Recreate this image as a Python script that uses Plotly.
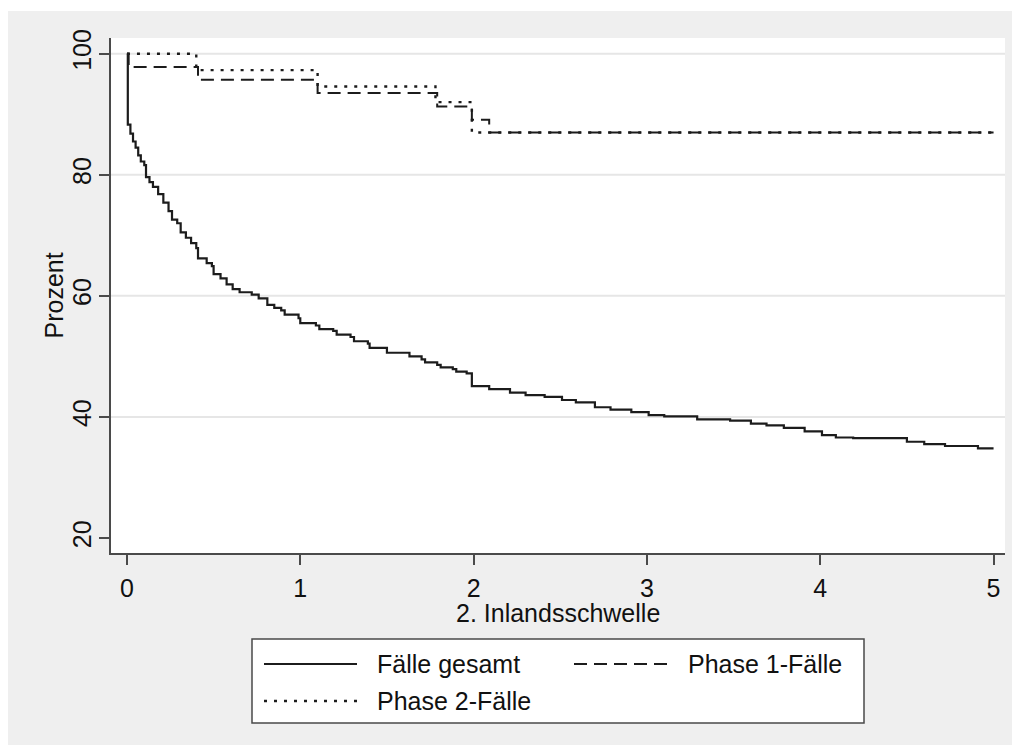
import plotly.graph_objects as go

# ---------------- data ----------------
gesamt_x = [0, 0.005, 0.02, 0.035, 0.05, 0.065, 0.08, 0.10, 0.11, 0.13, 0.15, 0.18, 0.21, 0.24,
            0.26, 0.29, 0.31, 0.34, 0.37, 0.40, 0.41, 0.46, 0.49, 0.50, 0.54, 0.575, 0.61, 0.65,
            0.72, 0.76, 0.81, 0.85, 0.89, 0.91, 0.99, 1.00, 1.09, 1.11, 1.19, 1.21, 1.29, 1.31,
            1.39, 1.40, 1.50, 1.63, 1.70, 1.72, 1.79, 1.81, 1.88, 1.90, 1.96, 1.99, 2.09, 2.21,
            2.30, 2.41, 2.51, 2.59, 2.70, 2.79, 2.91, 3.01, 3.10, 3.29, 3.48, 3.60, 3.69, 3.79,
            3.91, 4.01, 4.09, 4.19, 4.50, 4.60, 4.72, 4.91, 5.0]
gesamt_y = [100, 88.3, 86.8, 85.5, 84.5, 83.2, 82.2, 81.6, 79.6, 78.8, 78.0, 76.8, 75.4, 74.0,
            72.6, 72.0, 70.5, 69.6, 68.7, 67.9, 66.2, 65.4, 64.9, 63.6, 62.9, 61.9, 61.1, 60.6,
            60.2, 59.6, 58.5, 58.0, 57.6, 56.9, 56.3, 55.5, 55.1, 54.5, 54.2, 53.6, 53.2, 52.5,
            52.1, 51.4, 50.6, 50.0, 49.5, 49.0, 48.6, 48.2, 47.9, 47.5, 47.2, 45.1, 44.6, 44.0,
            43.6, 43.3, 42.8, 42.4, 41.6, 41.2, 40.8, 40.3, 40.1, 39.6, 39.4, 38.9, 38.6, 38.2,
            37.6, 37.0, 36.6, 36.5, 35.9, 35.5, 35.2, 34.8, 34.8]

phase1_x = [0, 0.01, 0.41, 1.10, 1.79, 1.99, 2.09, 5.0]
phase1_y = [100, 97.8, 95.7, 93.5, 91.3, 89.1, 87.0, 87.0]

phase2_x = [0, 0.40, 1.10, 1.78, 1.99, 5.0]
phase2_y = [100, 97.3, 94.6, 92.0, 87.0, 87.0]

x_ticks = [0, 1, 2, 3, 4, 5]
y_ticks = [20, 40, 60, 80, 100]
grid_values = [40, 60, 80, 100]

series_names = ["Fälle gesamt", "Phase 1-Fälle", "Phase 2-Fälle"]
x_title = "2. Inlandsschwelle"
y_title = "Prozent"

# ---------------- layout geometry ----------------
# positions below are page pixels; the figure div sits 8px into the page (body margin)
OFF = 8
W_FIG, H_FIG = 1012, 741
L, R, T, B = 111, 1005, 38, 553          # plot area in page pixels
PW, PH = R - L, B - T


def px_x(px):
    return (px - L) / PW


def px_y(py):
    return (B - py) / PH


LINE_COL = "#1c1c1c"
AXIS_COL = "#4a4a4a"
GRID_COL = "#e6e6e6"
BG_COL = "#efefef"
FONT = "Liberation Sans, Arial, sans-serif"
FS = 25
TXT_COL = "#111"

DASH = "13px,7px"
DOT = "3px,7px"

fig = go.Figure()
fig.add_trace(go.Scatter(x=gesamt_x, y=gesamt_y, mode="lines", line_shape="hv",
                         line=dict(color=LINE_COL, width=2.2), name=series_names[0]))
fig.add_trace(go.Scatter(x=phase1_x, y=phase1_y, mode="lines", line_shape="hv",
                         line=dict(color=LINE_COL, width=2, dash=DASH), name=series_names[1]))
fig.add_trace(go.Scatter(x=phase2_x, y=phase2_y, mode="lines", line_shape="hv",
                         line=dict(color=LINE_COL, width=2.4, dash=DOT), name=series_names[2]))

shapes = []
for g in grid_values:
    shapes.append(dict(type="line", xref="paper", yref="y", x0=0, x1=1, y0=g, y1=g,
                       layer="below", line=dict(color=GRID_COL, width=2)))

# white strips around the grey frame (page coords)
shapes.append(dict(type="rect", xref="paper", yref="paper", x0=px_x(-50), x1=px_x(1100),
                   y0=px_y(11), y1=px_y(-50), fillcolor="white", line=dict(width=0)))
shapes.append(dict(type="rect", xref="paper", yref="paper", x0=px_x(1015), x1=px_x(1100),
                   y0=px_y(800), y1=px_y(-50), fillcolor="white", line=dict(width=0)))
shapes.append(dict(type="rect", xref="paper", yref="paper", x0=px_x(-50), x1=px_x(1100),
                   y0=px_y(800), y1=px_y(745), fillcolor="white", line=dict(width=0)))

# legend box
LG_L, LG_R, LG_T, LG_B = 252, 864, 639, 723
shapes.append(dict(type="rect", xref="paper", yref="paper", x0=px_x(LG_L), x1=px_x(LG_R),
                   y0=px_y(LG_B), y1=px_y(LG_T), fillcolor="white",
                   line=dict(color=AXIS_COL, width=1.5)))
legend_items = [
    # (sample x0, sample x1, row y, text x, dash, width)
    (264, 357, 664, 375, "solid", 2.2),
    (574, 672, 664, 686, DASH, 2),
    (264, 357, 701, 375, DOT, 2.4),
]
annotations = []
for (sx0, sx1, ry, tx, dash, wd), name in zip(legend_items, series_names):
    shapes.append(dict(type="line", xref="paper", yref="paper", x0=px_x(sx0), x1=px_x(sx1),
                       y0=px_y(ry), y1=px_y(ry), line=dict(color=LINE_COL, width=wd, dash=dash)))
    annotations.append(dict(xref="paper", yref="paper", x=px_x(tx), y=px_y(ry), text=name,
                            showarrow=False, xanchor="left", yanchor="middle",
                            font=dict(family=FONT, size=FS, color=TXT_COL)))

# axis titles placed as annotations for exact placement
annotations.append(dict(xref="paper", yref="paper", x=0.5, y=px_y(613), text=x_title,
                        showarrow=False, xanchor="center", yanchor="middle",
                        font=dict(family=FONT, size=FS, color=TXT_COL)))
annotations.append(dict(xref="paper", yref="paper", x=px_x(53), y=0.5, text=y_title,
                        textangle=-90, showarrow=False, xanchor="center", yanchor="middle",
                        font=dict(family=FONT, size=FS, color=TXT_COL)))

fig.update_layout(
    width=W_FIG, height=H_FIG,
    margin=dict(l=L - OFF, r=W_FIG - (R - OFF), t=T - OFF, b=H_FIG - (B - OFF), pad=0),
    paper_bgcolor=BG_COL, plot_bgcolor="white",
    font=dict(family=FONT, size=FS, color=TXT_COL),
    showlegend=False,
    shapes=shapes, annotations=annotations,
    xaxis=dict(range=[-0.092, 5.066], tickvals=x_ticks, ticks="outside", ticklen=10,
               tickwidth=1.5, tickcolor=AXIS_COL, showline=True, linecolor=AXIS_COL,
               linewidth=1.5, showgrid=False, zeroline=False, ticklabelstandoff=2),
    yaxis=dict(range=[17.52, 102.6], tickvals=y_ticks, ticks="outside", ticklen=10,
               tickwidth=1.5, tickcolor=AXIS_COL, showline=True, linecolor=AXIS_COL,
               linewidth=1.5, showgrid=False, zeroline=False, tickangle=-90,
               ticklabelstandoff=-2),
)

fig.write_html("out.html")
